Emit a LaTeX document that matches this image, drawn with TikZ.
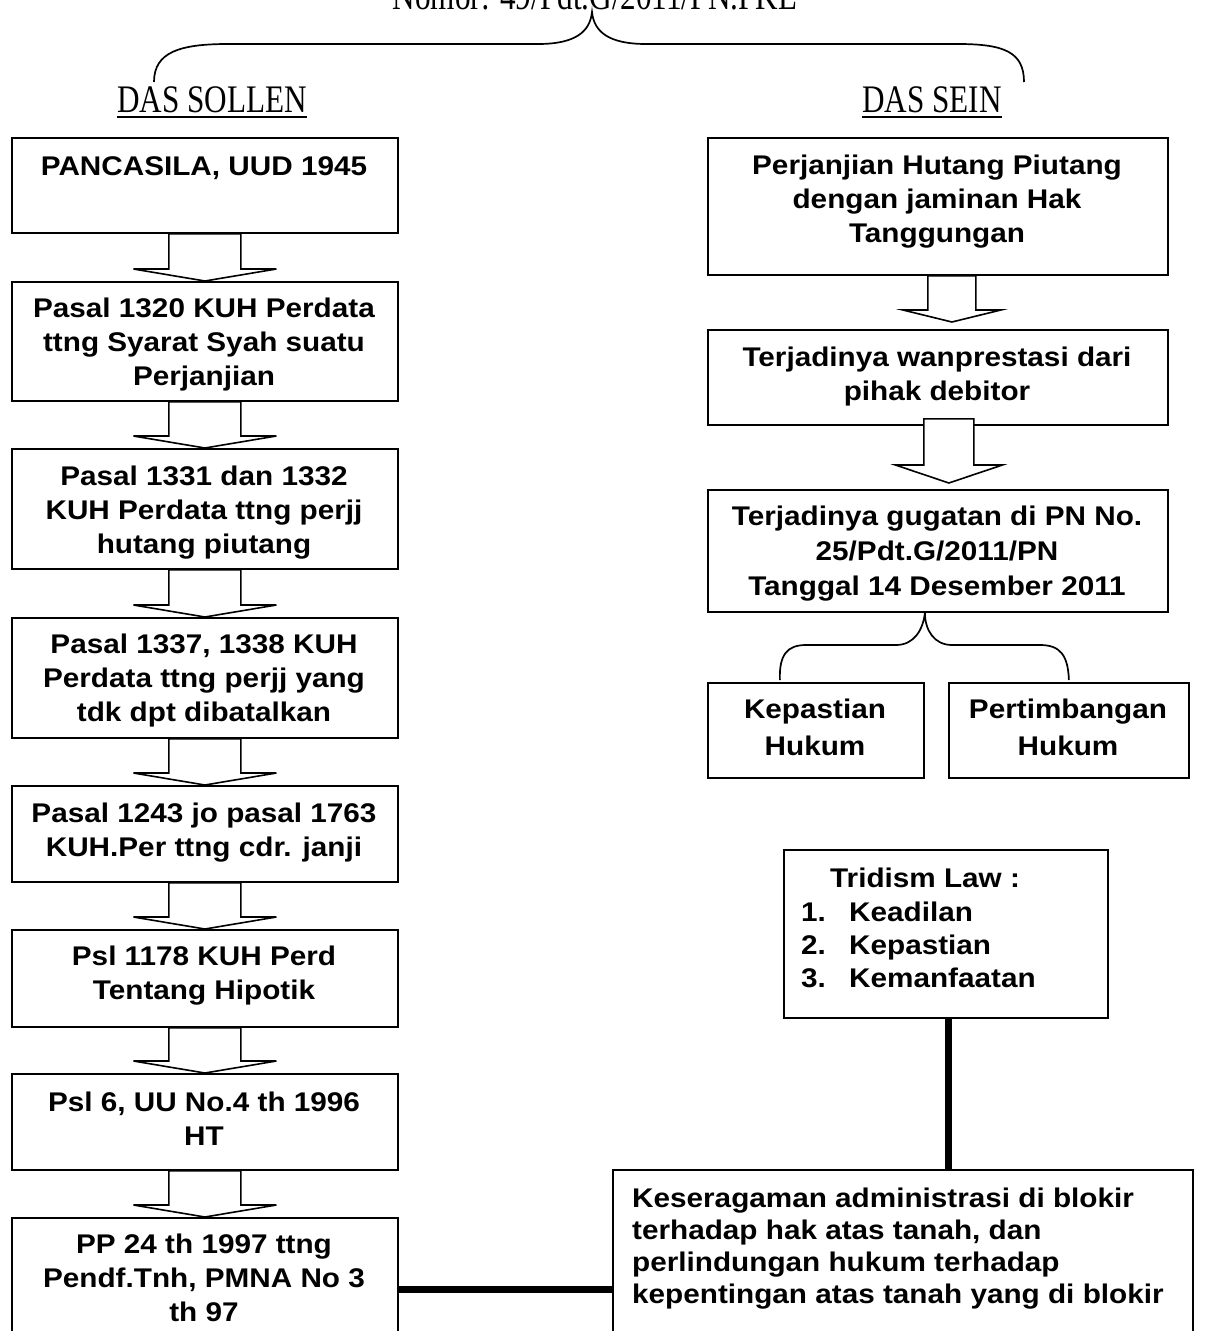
\documentclass[tikz,border=0pt]{standalone}
\usepackage{fontspec}
\usetikzlibrary{calc}
\setmainfont{Liberation Sans}
\newfontfamily\sansb{Liberation Sans}[FakeStretch=1.1]
\newfontfamily\serifc{Liberation Serif}[FakeStretch=0.8]
\tikzset{
  boxst/.style={draw, line width=1.8pt, inner sep=0pt, anchor=north west},
  txt/.style={font=\sansb\bfseries\fontsize{27}{34}\selectfont, align=center, anchor=base, inner sep=0pt},
  sertxt/.style={font=\serifc\fontsize{39}{40}\selectfont, anchor=base, inner sep=0pt},
  arrst/.style={draw, line width=1.6pt, fill=white, line join=miter},
  bracest/.style={line width=1.7pt},
  heavy/.style={line width=7pt}
}
% box: x1,y1,x2,y2,name
\newcommand\mybox[5]{\node[boxst, minimum width={(#3-#1)*1pt}, minimum height={(#4-#2)*1pt}] (#5) at (#1,#2) {};}
% block arrow: from,to,xoff,shafthalf,headhalf,shafttop,headbase,tip
\newcommand\blockarr[8]{%
  \draw[arrst] ($(#1.south)+(#3-#4,#6)$) -- ($(#2.north)+(#3-#4,#7)$) -- ($(#2.north)+(#3-#5,#7)$)
   -- ($(#2.north)+(#3,#8)$) -- ($(#2.north)+(#3+#5,#7)$) -- ($(#2.north)+(#3+#4,#7)$)
   -- ($(#1.south)+(#3+#4,#6)$) -- cycle;}
\begin{document}
\begin{tikzpicture}[x=1pt,y=-1pt]
\useasboundingbox (0,0) rectangle (1213,1331);
\clip (0,0) rectangle (1213,1331);
\fill[white] (0,0) rectangle (1213,1331);

% title and top brace
\node[sertxt] (title) at (595,9) {Nomor: 49/Pdt.G/2011/PN.PKL};
\coordinate (btip) at (592,12);
\draw[bracest] (154,82) .. controls (154,52) and (180,44) .. (228,44) -- (538,44)
  .. controls (575,44) and (590,32) .. (btip)
  .. controls (594,32) and (609,44) .. (646,44) -- (958,44)
  .. controls (1004,44) and (1024,52) .. (1024,82);

\node[sertxt] (sollen) at (212,112) {DAS SOLLEN};
\draw[line width=1.8pt] (sollen.base west)++(0,5) -- ($(sollen.base east)+(0,5)$);
\node[sertxt] (sein) at (932,112) {DAS SEIN};
\draw[line width=1.8pt] (sein.base west)++(0,5) -- ($(sein.base east)+(0,5)$);

% left column boxes
\mybox{11}{137}{397}{232}{l1}
\mybox{11}{281}{397}{400}{l2}
\mybox{11}{448}{397}{568}{l3}
\mybox{11}{617}{397}{737}{l4}
\mybox{11}{785}{397}{881}{l5}
\mybox{11}{929}{397}{1026}{l6}
\mybox{11}{1073}{397}{1169}{l7}
\mybox{11}{1217}{397}{1345}{l8}

% (multi-line texts are placed by the baseline of their last line)
\node[txt] (tl1) at (204,175) {PANCASILA, UUD 1945};
\node[txt] (tl2) at (204,385) {Pasal 1320 KUH Perdata\\ttng Syarat Syah suatu\\Perjanjian};
\node[txt] (tl3) at (204,553) {Pasal 1331 dan 1332\\KUH Perdata ttng perjj\\hutang piutang};
\node[txt] (tl4) at (204,721) {Pasal 1337, 1338 KUH\\Perdata ttng perjj yang\\tdk dpt dibatalkan};
\node[txt] (tl5) at (204,856) {Pasal 1243 jo pasal 1763\\KUH.Per ttng cdr. janji};
\node[txt] (tl6) at (204,999) {Psl 1178 KUH Perd\\Tentang Hipotik};
\node[txt] (tl7) at (204,1145) {Psl 6, UU No.4 th 1996\\HT};
\node[txt] (tl8) at (204,1321) {PP 24 th 1997 ttng\\Pendf.Tnh, PMNA No 3\\th 97};

\blockarr{l1}{l2}{0}{36}{71.5}{0}{-12}{0}
\blockarr{l2}{l3}{0}{36}{71.5}{0}{-12}{0}
\blockarr{l3}{l4}{0}{36}{71.5}{0}{-12}{0}
\blockarr{l4}{l5}{0}{36}{71.5}{0}{-12}{0}
\blockarr{l5}{l6}{0}{36}{71.5}{0}{-12}{0}
\blockarr{l6}{l7}{0}{36}{71.5}{0}{-12}{0}
\blockarr{l7}{l8}{0}{36}{71.5}{0}{-12}{0}

% right column
\mybox{707}{137}{1167}{274}{r1}
\mybox{707}{329}{1167}{424}{r2}
\mybox{707}{489}{1167}{611}{r3}
\mybox{707}{682}{923}{777}{kp}
\mybox{948}{682}{1188}{777}{pt}

\node[txt] (tr1) at (937,242) {Perjanjian Hutang Piutang\\dengan jaminan Hak\\Tanggungan};
\node[txt] (tr2) at (937,400) {Terjadinya wanprestasi dari\\pihak debitor};
\node[txt, font=\sansb\bfseries\fontsize{27}{35}\selectfont] (tr3) at (937,595) {Terjadinya gugatan di PN No.\\25/Pdt.G/2011/PN\\Tanggal 14 Desember 2011};
\node[txt, font=\sansb\bfseries\fontsize{27}{37}\selectfont] (tkp) at (815,755) {Kepastian\\Hukum};
\node[txt, font=\sansb\bfseries\fontsize{27}{37}\selectfont] (tpt) at (1068,755) {Pertimbangan\\Hukum};

\blockarr{r1}{r2}{14}{24}{49}{0}{-19}{-7}
\blockarr{r2}{r3}{11}{25}{53.5}{-7}{-24}{-6}

% small brace
\coordinate (stip) at ($(r3.south)+(-13,0)$);
\draw[bracest] ($(kp.north)+(-36,-2)$) .. controls (779,655) and (787,645) .. (806,645) -- (896,645)
  .. controls (914,645) and (923,630) .. (stip)
  .. controls (925,630) and (934,645) .. (952,645) -- (1040,645)
  .. controls (1060,645) and (1068,655) .. ($(pt.north)+(0,-2)$);

% Tridism box
\mybox{783}{849}{1107}{1017}{tri}
\node[txt, anchor=base west] (tri0) at (830,887) {Tridism Law :};
\node[txt, anchor=base west] (tri1n) at (801,921) {1.};
\node[txt, anchor=base west] (tri1) at (849,921) {Keadilan};
\node[txt, anchor=base west] (tri2n) at (801,954) {2.};
\node[txt, anchor=base west] (tri2) at (849,954) {Kepastian};
\node[txt, anchor=base west] (tri3n) at (801,987) {3.};
\node[txt, anchor=base west] (tri3) at (849,987) {Kemanfaatan};

% bottom right box
\mybox{612}{1169}{1192}{1345}{kes}
\node[txt, align=left, anchor=base west, font=\sansb\bfseries\fontsize{27}{32}\selectfont] (kest) at (632,1303)
  {Keseragaman administrasi di blokir\\terhadap hak atas tanah, dan\\perlindungan hukum terhadap\\kepentingan atas tanah yang di blokir};

% heavy connectors
\draw[heavy] ($(tri.south)+(3,0)$) -- ($(kes.north)+(46,0)$);
\draw[heavy] ($(l8.north east)+(0,72)$) -- ($(kes.north west)+(0,120)$);
\end{tikzpicture}
\end{document}
